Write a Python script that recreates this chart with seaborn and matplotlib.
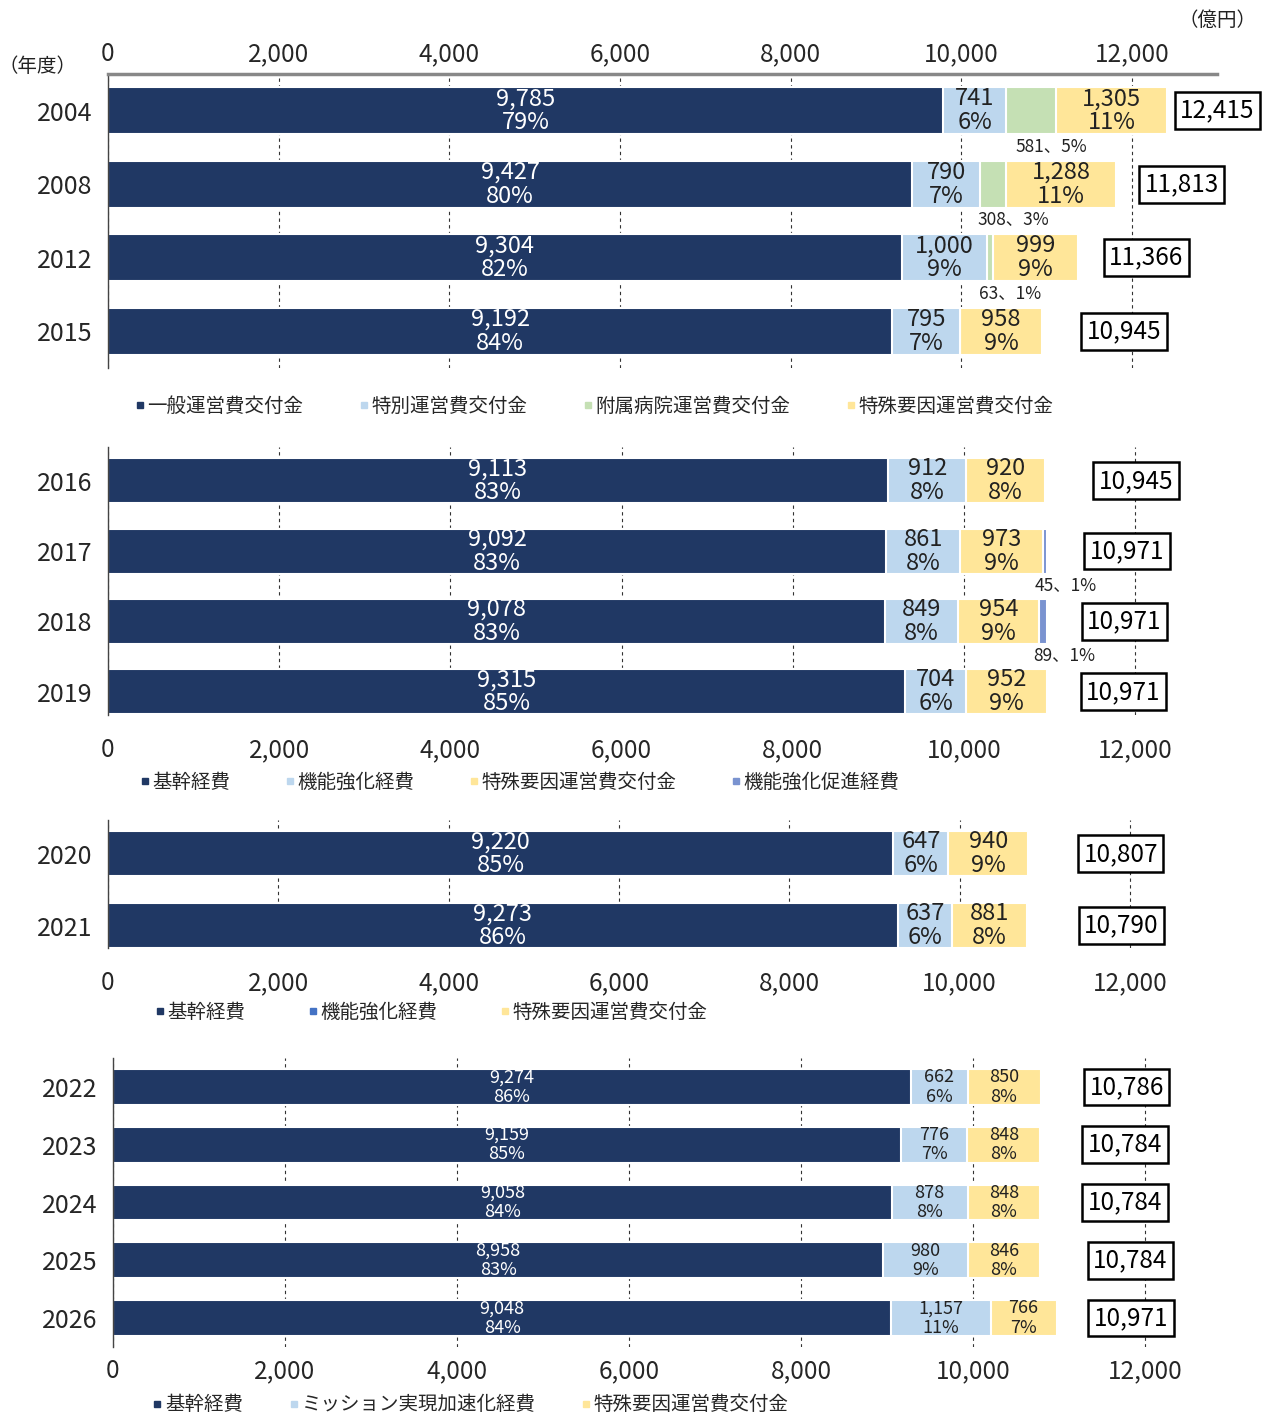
import matplotlib
matplotlib.use("Agg")
import matplotlib.pyplot as plt
from matplotlib.lines import Line2D
import seaborn as sns
import pandas as pd
import numpy as np

sns.set_style("white")
plt.rcParams['font.family'] = ['Noto Sans CJK JP', 'DejaVu Sans']

# ---------------- data ----------------
years1 = ['2004', '2008', '2012', '2015']
p1_general = [9785, 9427, 9304, 9192]
p1_special = [741, 790, 1000, 795]
p1_hospital = [581, 308, 63, 0]
p1_factor = [1305, 1288, 999, 958]
p1_general_pct = [79, 80, 82, 84]
p1_special_pct = [6, 7, 9, 7]
p1_hospital_pct = [5, 3, 1, 0]
p1_factor_pct = [11, 11, 9, 9]
p1_total = [12415, 11813, 11366, 10945]
p1_names = ['一般運営費交付金', '特別運営費交付金', '附属病院運営費交付金', '特殊要因運営費交付金']

years2 = ['2016', '2017', '2018', '2019']
p2_base = [9113, 9092, 9078, 9315]
p2_func = [912, 861, 849, 704]
p2_factor = [920, 973, 954, 952]
p2_promo = [0, 45, 89, 0]
p2_base_pct = [83, 83, 83, 85]
p2_func_pct = [8, 8, 8, 6]
p2_factor_pct = [8, 9, 9, 9]
p2_promo_pct = [0, 1, 1, 0]
p2_total = [10945, 10971, 10971, 10971]
p2_names = ['基幹経費', '機能強化経費', '特殊要因運営費交付金', '機能強化促進経費']

years3 = ['2020', '2021']
p3_base = [9220, 9273]
p3_func = [647, 637]
p3_factor = [940, 881]
p3_base_pct = [85, 86]
p3_func_pct = [6, 6]
p3_factor_pct = [9, 8]
p3_total = [10807, 10790]
p3_names = ['基幹経費', '機能強化経費', '特殊要因運営費交付金']

years4 = ['2022', '2023', '2024', '2025', '2026']
p4_base = [9274, 9159, 9058, 8958, 9048]
p4_mission = [662, 776, 878, 980, 1157]
p4_factor = [850, 848, 848, 846, 766]
p4_base_pct = [86, 85, 84, 83, 84]
p4_mission_pct = [6, 7, 8, 9, 11]
p4_factor_pct = [8, 8, 8, 8, 7]
p4_total = [10786, 10784, 10784, 10784, 10971]
p4_names = ['基幹経費', 'ミッション実現加速化経費', '特殊要因運営費交付金']

# ---------------- style ----------------
NAVY = '#203864'
LBLUE = '#BDD7EE'
GREEN = '#C5E0B4'
YELLOW = '#FFE699'
PBLUE = '#7A93D0'
TXT = '#222222'

fig = plt.figure(figsize=(12.63, 14.17), dpi=100)

def draw_panel(ax, years, series, pcts, colors, below_idx, width, lab_fs,
               totals, box_x, xtick_top=False, tick_pad=8):
    n = len(series)
    cums = np.cumsum(np.array(series, dtype=float), axis=0)
    # draw from the longest cumulative bar to the shortest (stacked look)
    for k in range(n - 1, -1, -1):
        df = pd.DataFrame({'year': years, 'val': cums[k]})
        sns.barplot(data=df, x='val', y='year', order=years, orient='h',
                    color=colors[k], width=width, edgecolor='white',
                    linewidth=1.5, errorbar=None, ax=ax, saturation=1)
    # segment labels
    for k in range(n):
        prev = cums[k - 1] if k > 0 else np.zeros(len(years))
        for i, v in enumerate(series[k]):
            if v == 0:
                continue
            cx = prev[i] + v / 2
            col = 'white' if k == 0 else TXT
            if k == below_idx:
                ax.text(cx + 240, i + 0.48, f"{v:,}、{pcts[k][i]}%",
                        ha='center', va='center', fontsize=12.5, color=TXT)
            else:
                off = 8.6 if lab_fs > 14 else 7.0
                ax.annotate(f"{v:,}", (cx, i), xytext=(0, off),
                            textcoords='offset points', ha='center',
                            va='center', fontsize=lab_fs, color=col)
                ax.annotate(f"{pcts[k][i]}%", (cx, i), xytext=(0, -off),
                            textcoords='offset points', ha='center',
                            va='center', fontsize=lab_fs, color=col)
    # totals in boxes
    for i, t in enumerate(totals):
        ax.text(box_x[i], i, f"{t:,}", ha='center', va='center',
                fontsize=17.5, color='black',
                bbox=dict(boxstyle='square,pad=0.22', fc='white',
                          ec='black', lw=1.8))
    ax.set_xlim(0, 13000)
    ax.set_xticks(np.arange(0, 12001, 2000))
    ax.set_xticklabels([f"{t:,}" for t in range(0, 12001, 2000)])
    ax.set_xlabel('')
    ax.set_ylabel('')
    ax.set_axisbelow(True)
    ax.grid(axis='x', linestyle=(0, (3, 3)), color='#333333', lw=0.8)
    ax.grid(axis='y', visible=False)
    for s in ['top', 'right', 'bottom']:
        ax.spines[s].set_visible(False)
    ax.spines['left'].set_color('#444444')
    ax.spines['left'].set_linewidth(1.0)
    if xtick_top:
        ax.xaxis.tick_top()
        ax.spines['top'].set_visible(True)
        ax.spines['top'].set_color('#888888')
        ax.spines['top'].set_linewidth(2.5)
    ax.tick_params(axis='x', length=0, labelsize=17.5, pad=tick_pad)
    ax.tick_params(axis='y', length=0, labelsize=18, pad=11)


def add_legend(names, colors, x, y, colsp):
    handles = [Line2D([], [], marker='s', linestyle='', markersize=4.5,
                      color=c) for c in colors]
    fig.legend(handles, names, loc='center left', bbox_to_anchor=(x, y),
               ncol=len(names), frameon=False, fontsize=14,
               handlelength=0.6, handletextpad=0.1, columnspacing=colsp,
               borderpad=0, borderaxespad=0)

# panel 1
ax1 = fig.add_axes([0.08551, 0.74030, 0.8783, 0.20748])
draw_panel(ax1, years1, [p1_general, p1_special, p1_hospital, p1_factor],
           [p1_general_pct, p1_special_pct, p1_hospital_pct, p1_factor_pct],
           [NAVY, LBLUE, GREEN, YELLOW], 2, 0.64, 17, p1_total,
           [12997, 12586, 12165, 11907], xtick_top=True, tick_pad=5)
ax1.set_ylim(3.5, -0.5)
add_legend(p1_names, [NAVY, LBLUE, GREEN, YELLOW], 0.106, 0.7135, 2.8)

# panel 2
ax2 = fig.add_axes([0.08551, 0.49541, 0.8811, 0.18913])
draw_panel(ax2, years2, [p2_base, p2_func, p2_factor, p2_promo],
           [p2_base_pct, p2_func_pct, p2_factor_pct, p2_promo_pct],
           [NAVY, LBLUE, YELLOW, PBLUE], 3, 0.64, 17, p2_total,
           [12010, 11905, 11870, 11860], tick_pad=16)
ax2.set_ylim(3.33, -0.48)
add_legend(p2_names, [NAVY, LBLUE, YELLOW, PBLUE], 0.110, 0.4481, 2.75)

# panel 3
ax3 = fig.add_axes([0.08551, 0.33098, 0.8767, 0.09033])
draw_panel(ax3, years3, [p3_base, p3_func, p3_factor],
           [p3_base_pct, p3_func_pct, p3_factor_pct],
           [NAVY, LBLUE, YELLOW], -1, 0.625, 17, p3_total,
           [11890, 11900], tick_pad=16)
ax3.set_ylim(1.31, -0.47)
add_legend(p3_names, [NAVY, '#4472C4', YELLOW], 0.122, 0.2858, 3.15)

# panel 4
ax4 = fig.add_axes([0.08947, 0.04940, 0.8852, 0.20395])
draw_panel(ax4, years4, [p4_base, p4_mission, p4_factor],
           [p4_base_pct, p4_mission_pct, p4_factor_pct],
           [NAVY, LBLUE, YELLOW], -1, 0.62, 13, p4_total,
           [11790, 11767, 11767, 11826, 11837], tick_pad=8)
ax4.set_ylim(4.5, -0.5)
add_legend(p4_names, [NAVY, LBLUE, YELLOW], 0.120, 0.0085, 2.3)

fig.text(1218 / 1263, 1 - 20 / 1417, '（億円）', ha='center', va='center',
         fontsize=14, color=TXT)
fig.text(38 / 1263, 1 - 66 / 1417, '（年度）', ha='center', va='center',
         fontsize=14, color=TXT)

fig.savefig('out.png', dpi=100)
